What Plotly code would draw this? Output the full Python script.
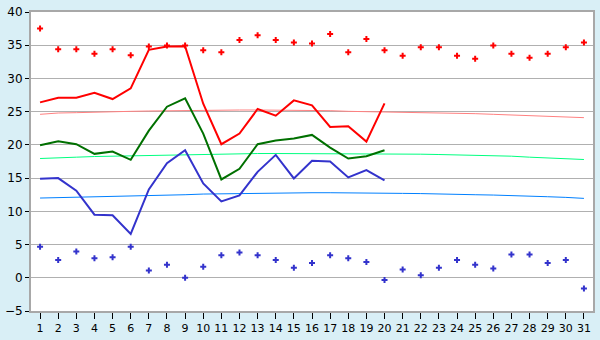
import plotly.graph_objects as go

days = list(range(1, 32))

# Record highs (red markers) and record lows (blue markers)
rec_high = [37.5, 34.4, 34.4, 33.7, 34.4, 33.5, 34.8, 34.95, 34.95, 34.25,
            33.95, 35.8, 36.5, 35.8, 35.4, 35.25, 36.7, 33.95, 35.95, 34.25,
            33.4, 34.7, 34.7, 33.4, 32.95, 34.95, 33.7, 33.1, 33.7, 34.7, 35.4]
rec_low = [4.67, 2.67, 3.95, 2.95, 3.1, 4.67, 1.1, 1.95, 0.0, 1.67,
           3.38, 3.81, 3.38, 2.67, 1.52, 2.24, 3.38, 2.95, 2.38, -0.33,
           1.24, 0.38, 1.52, 2.67, 1.95, 1.38, 3.52, 3.52, 2.24, 2.67, -1.62]

# Observed values (days 1-20)
obs_days = list(range(1, 21))
obs_max = [26.4, 27.1, 27.1, 27.85, 26.9, 28.5, 34.3, 34.8, 34.85, 26.2,
           20.1, 21.7, 25.4, 24.4, 26.7, 25.95, 22.7, 22.8, 20.5, 26.25]
obs_mean = [19.95, 20.55, 20.1, 18.65, 19.0, 17.75, 22.15, 25.75, 27.0, 21.7,
            14.8, 16.4, 20.1, 20.65, 20.95, 21.5, 19.6, 17.95, 18.3, 19.2]
obs_min = [14.9, 15.0, 13.1, 9.5, 9.4, 6.6, 13.3, 17.25, 19.2, 14.2,
           11.5, 12.4, 15.95, 18.5, 14.95, 17.6, 17.5, 15.1, 16.2, 14.65]

# Normals
norm_max = [24.6, 24.8, 24.85, 24.95, 25.0, 25.05, 25.1, 25.15, 25.2, 25.22,
            25.25, 25.25, 25.25, 25.25, 25.2, 25.2, 25.15, 25.05, 25.0, 24.98,
            24.95, 24.92, 24.85, 24.78, 24.7, 24.6, 24.52, 24.45, 24.35, 24.25, 24.1]
norm_mean = [17.95, 18.1, 18.15, 18.25, 18.3, 18.35, 18.45, 18.5, 18.6, 18.65,
             18.7, 18.7, 18.7, 18.7, 18.7, 18.7, 18.7, 18.7, 18.7, 18.7,
             18.7, 18.6, 18.55, 18.5, 18.45, 18.4, 18.3, 18.15, 18.05, 18.0, 17.8]
norm_min = [12.0, 12.05, 12.1, 12.2, 12.3, 12.35, 12.4, 12.45, 12.5, 12.6,
            12.65, 12.7, 12.7, 12.75, 12.8, 12.8, 12.8, 12.8, 12.8, 12.75,
            12.7, 12.67, 12.65, 12.6, 12.5, 12.45, 12.4, 12.3, 12.2, 12.1, 11.95]

y_ticks = list(range(-5, 41, 5))

fig = go.Figure()
fig.add_trace(go.Scatter(x=days, y=norm_max, mode="lines",
                         line=dict(color="#ff8080", width=1)))
fig.add_trace(go.Scatter(x=days, y=norm_mean, mode="lines",
                         line=dict(color="#00ff80", width=1)))
fig.add_trace(go.Scatter(x=days, y=norm_min, mode="lines",
                         line=dict(color="#0080ff", width=1)))
fig.add_trace(go.Scatter(x=obs_days, y=obs_max, mode="lines",
                         line=dict(color="#ff0000", width=2)))
fig.add_trace(go.Scatter(x=obs_days, y=obs_mean, mode="lines",
                         line=dict(color="#007000", width=2)))
fig.add_trace(go.Scatter(x=obs_days, y=obs_min, mode="lines",
                         line=dict(color="#3333cc", width=2)))
fig.add_trace(go.Scatter(x=days, y=rec_high, mode="markers",
                         marker=dict(symbol="cross", size=5, color="#ff0000",
                                     line=dict(width=0))))
fig.add_trace(go.Scatter(x=days, y=rec_low, mode="markers",
                         marker=dict(symbol="cross", size=5, color="#3333cc",
                                     line=dict(width=0))))

fig.update_layout(
    width=600, height=340,
    margin=dict(l=20, r=5, t=5, b=20),
    paper_bgcolor="#d9eff6",
    plot_bgcolor="#ffffff",
    showlegend=False,
    font=dict(family="DejaVu Sans", size=11, color="#000000"),
)
fig.update_xaxes(range=[0.5, 31.5], tickmode="array", tickvals=days,
                 ticktext=[str(d) for d in days],
                 showgrid=False, zeroline=False,
                 showline=True, linecolor="#a8a8a8", linewidth=2, mirror=True,
                 ticks="outside", ticklen=6, tickcolor="#000000", tickwidth=1,
                 tickfont=dict(size=11))
fig.update_yaxes(range=[-5, 40], tickmode="array", tickvals=y_ticks,
                 showgrid=True, gridcolor="#b0b0b0", gridwidth=1, zeroline=False,
                 showline=True, linecolor="#a8a8a8", linewidth=2, mirror=True,
                 ticks="outside", ticklen=4, tickcolor="#000000", tickwidth=1,
                 tickfont=dict(size=12))

fig.write_html("out.html")
